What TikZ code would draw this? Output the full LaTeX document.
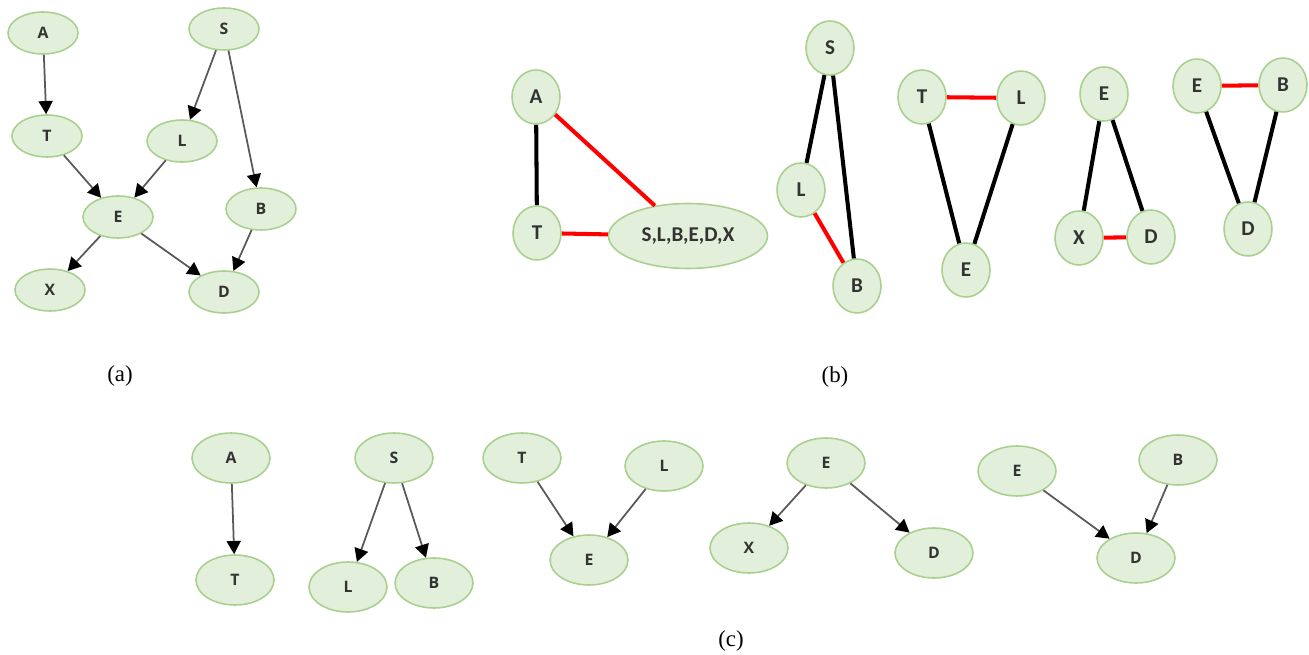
\documentclass[tikz,border=0pt]{standalone}
\usepackage{fontspec}
\setmainfont{Liberation Serif}
\newfontfamily\varfont{Open Sans}
\newfontfamily\cliquefont{Carlito}
\usetikzlibrary{arrows.meta, shapes.geometric}
\definecolor{nodefill}{HTML}{E2EFDA}
\definecolor{nodeline}{HTML}{A9D08E}
\definecolor{arcgray}{HTML}{595959}
\tikzstyle{var}=[ellipse, draw=nodeline, fill=nodefill, line width=0.9pt, inner sep=0pt, minimum width=1.4cm, minimum height=0.84cm, text=black!80, font=\varfont\bfseries\small]
\tikzstyle{cvar}=[var, minimum width=1.56cm, minimum height=1cm]
\tikzstyle{bvar}=[var, minimum width=0.96cm, minimum height=1.08cm, font=\cliquefont\bfseries\large]
\tikzstyle{arc}=[draw=arcgray, line width=1pt, -{Triangle[length=7.5pt, width=8pt, color=black]}]
\tikzstyle{link}=[draw=black, line width=2.3pt]
\tikzstyle{redlink}=[draw=red, line width=2.3pt]
\tikzstyle{caption}=[font=\fontsize{13}{15}\selectfont]

\begin{document}
\begin{tikzpicture}[x=0.02cm, y=-0.02cm]
    \useasboundingbox (0,0) rectangle (1309,655);
    % (a) the network
    \node[var] (aA) at (43,33) {A};
    \node[var] (aS) at (224,29) {S};
    \node[var] (aT) at (47,136) {T};
    \node[var] (aL) at (182,141) {L};
    \node[var] (aE) at (118,217) {E};
    \node[var] (aB) at (261,209) {B};
    \node[var] (aX) at (50,290) {X};
    \node[var] (aD) at (224,292) {D};
    \draw[arc] (aA) -- (aT);
    \draw[arc] (aS) -- (aL);
    \draw[arc] (aS) -- (aB);
    \draw[arc] (aT) -- (aE);
    \draw[arc] (aL) -- (aE);
    \draw[arc] (aE) -- (aX);
    \draw[arc] (aE) -- (aD);
    \draw[arc] (aB) -- (aD);
    \node[caption] (capa) at (120,376) {(a)};

    % (b) the cliques
    \node[bvar] (bA) at (536,97) {A};
    \node[bvar] (bT) at (537,233) {T};
    \node[bvar, minimum width=3.18cm, minimum height=1.3cm] (bR) at (688,236) {S,L,B,E,D,X};
    \draw[link] (bA) -- (bT);
    \draw[redlink] (bA) -- (bR);
    \draw[redlink] (bT) -- (bR);

    \node[bvar] (bS) at (830,48) {S};
    \node[bvar] (bL) at (801,190) {L};
    \node[bvar] (bB) at (857,286) {B};
    \draw[link] (bS) -- (bL);
    \draw[link] (bS) -- (bB);
    \draw[redlink] (bL) -- (bB);

    \node[bvar] (bT2) at (922,97) {T};
    \node[bvar] (bL2) at (1021,98) {L};
    \node[bvar] (bE2) at (966,270) {E};
    \draw[redlink] (bT2) -- (bL2);
    \draw[link] (bT2) -- (bE2);
    \draw[link] (bL2) -- (bE2);

    \node[bvar] (bE3) at (1104,94) {E};
    \node[bvar] (bX3) at (1079,238) {X};
    \node[bvar] (bD3) at (1151,237) {D};
    \draw[link] (bE3) -- (bX3);
    \draw[link] (bE3) -- (bD3);
    \draw[redlink] (bX3) -- (bD3);

    \node[bvar] (bE4) at (1197,86) {E};
    \node[bvar] (bB4) at (1283,85) {B};
    \node[bvar] (bD4) at (1248,229) {D};
    \draw[redlink] (bE4) -- (bB4);
    \draw[link] (bE4) -- (bD4);
    \draw[link] (bB4) -- (bD4);
    \node[caption] (capb) at (835,377) {(b)};

    % (c) the families
    \node[cvar] (cA) at (231,458) {A};
    \node[cvar] (cT) at (235,580) {T};
    \draw[arc] (cA) -- (cT);

    \node[cvar] (cS) at (394,458) {S};
    \node[cvar] (cL) at (348,587) {L};
    \node[cvar] (cB) at (434,583) {B};
    \draw[arc] (cS) -- (cL);
    \draw[arc] (cS) -- (cB);

    \node[cvar] (cT2) at (522,458) {T};
    \node[cvar] (cL2) at (664,466) {L};
    \node[cvar] (cE2) at (589,560) {E};
    \draw[arc] (cT2) -- (cE2);
    \draw[arc] (cL2) -- (cE2);

    \node[cvar] (cE3) at (826,463) {E};
    \node[cvar] (cX3) at (749,548) {X};
    \node[cvar] (cD3) at (934,553) {D};
    \draw[arc] (cE3) -- (cX3);
    \draw[arc] (cE3) -- (cD3);

    \node[cvar] (cE4) at (1017,471) {E};
    \node[cvar] (cB4) at (1178,460) {B};
    \node[cvar] (cD4) at (1136,558) {D};
    \draw[arc] (cE4) -- (cD4);
    \draw[arc] (cB4) -- (cD4);
    \node[caption] (capc) at (731,641) {(c)};
\end{tikzpicture}
\end{document}
